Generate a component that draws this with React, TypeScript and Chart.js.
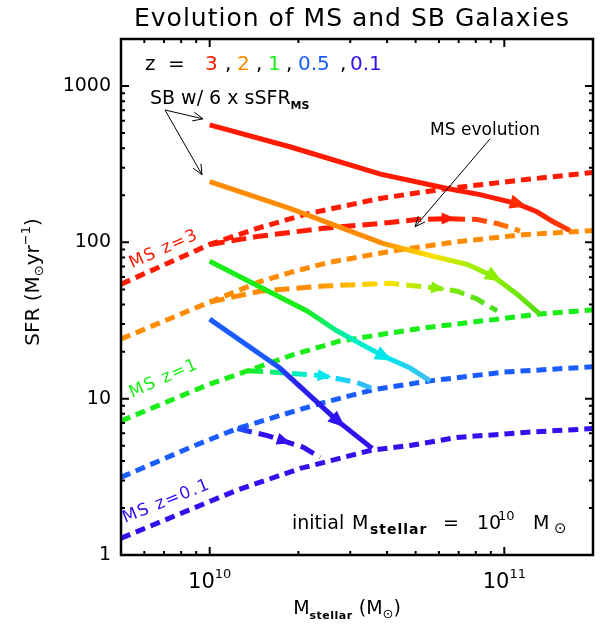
import React, { useEffect, useRef } from 'react';
import { Chart, registerables } from 'chart.js';

Chart.register(...registerables);

const FONT = '"DejaVu Sans", "Liberation Sans", sans-serif';

// ---------- axes ----------
const xMin = 5e9;
const xMax = 2e11;
const yMin = 1;
const yMax = 2000;
const yTickLabels = [1, 10, 100, 1000];

// ---------- colours ----------
const RED = '#ff1a00';
const ORANGE = '#ff8c00';
const YELLOW = '#ffe000';
const LIME = '#8cee00';
const GREEN = '#19ee19';
const CYAN = '#00e8ee';
const SKY = '#3cb4ff';
const BLUE = '#1a5cff';
const PURPLE = '#3010ee';

// ---------- main-sequence relations (dashed) ----------
const msZ3Mass = [5e9, 1e10, 1.45e10, 2.14e10, 3.78e10, 6.4e10, 1.2e11, 2e11];
const msZ3Sfr = [54, 97, 123, 152, 191, 221, 253, 280];
const msZ2Mass = [5e9, 1e10, 1.48e10, 1.87e10, 2.5e10, 4.09e10, 6.92e10, 1.16e11, 2e11];
const msZ2Sfr = [24.1, 41.5, 56, 64, 74, 87.6, 101, 112, 119];
const msZ1Mass = [5e9, 1e10, 1.35e10, 1.87e10, 2.77e10, 4.09e10, 5.3e10, 1.32e11, 2e11];
const msZ1Sfr = [7.2, 12.4, 15.1, 18.8, 23.4, 26.3, 28.3, 34.8, 37];
const msZ05Mass = [5e9, 8.91e9, 1.24e10, 1.64e10, 2.43e10, 3.58e10, 5.6e10, 1e11, 2e11];
const msZ05Sfr = [3.14, 5.02, 6.44, 7.57, 9.44, 11.4, 13.0, 14.8, 16.0];
const msZ01Mass = [5e9, 1e10, 1.24e10, 2.03e10, 3.5e10, 4.79e10, 6.92e10, 1.2e11, 2e11];
const msZ01Sfr = [1.28, 2.2, 2.6, 3.58, 4.66, 5.02, 5.65, 6.1, 6.44];

// ---------- MS evolution tracks (dashed, colour changes with z) ----------
const evoZ3Mass = [1e10, 1.45e10, 2.43e10, 3.78e10, 5.06e10, 6.4e10, 8.08e10, 9.45e10, 1.07e11, 1.13e11];
const evoZ3Sfr = [97, 109, 123, 132, 140, 142, 140, 132, 123, 118];
const evoZ3Arrow = 5;
const evoZ3Stops: [number, string][] = [[6.4e10, RED], [8.5e10, '#ff4a0a'], [1.13e11, ORANGE]];

const evoZ2Mass = [1e10, 1.48e10, 2.43e10, 4.09e10, 5.9e10, 6.92e10, 8.08e10, 9.45e10];
const evoZ2Sfr = [41.5, 48.7, 52.5, 54.8, 51, 48.7, 43.4, 36.4];
const evoZ2Arrow = 4;
const evoZ2Stops: [number, string][] = [[1e10, ORANGE], [2.2e10, ORANGE], [4e10, YELLOW], [5.9e10, LIME], [9.5e10, '#44dd22']];

const evoZ1Mass = [1.35e10, 1.73e10, 2.43e10, 3.16e10, 3.58e10];
const evoZ1Sfr = [15.1, 14.7, 14.0, 12.7, 11.6];
const evoZ1Arrow = 2;
const evoZ1Stops: [number, string][] = [[1.35e10, GREEN], [1.8e10, '#00f0a0'], [2.4e10, CYAN], [3.6e10, SKY]];

const evoZ05Mass = [1.24e10, 1.57e10, 1.77e10, 2.08e10, 2.37e10];
const evoZ05Sfr = [6.44, 5.81, 5.4, 4.88, 4.21];
const evoZ05Arrow = 2;
const evoZ05Stops: [number, string][] = [[1.24e10, BLUE], [1.45e10, PURPLE]];

// ---------- starburst tracks (solid) ----------
const sbZ3Mass = [1e10, 1.87e10, 3.8e10, 6.4e10, 8.27e10, 1.105e11, 1.29e11, 1.46e11, 1.67e11];
const sbZ3Sfr = [565, 409, 273, 221, 202, 177, 157, 136, 119];
const sbZ3Arrow = 5;
const sbZ3Stops: [number, string][] = [[1.2e11, RED], [1.67e11, '#ff4000']];

const sbZ2Mass = [1e10, 1.87e10, 3.87e10, 5.73e10, 7.47e10, 9.16e10, 1.105e11, 1.32e11];
const sbZ2Sfr = [245, 165, 98.6, 81.5, 72.4, 60.7, 46.6, 34.8];
const sbZ2Arrow = 5;
const sbZ2Stops: [number, string][] = [[3.8e10, ORANGE], [5.6e10, YELLOW], [7.5e10, '#aaee00'], [9.2e10, LIME], [1.32e11, '#55dd11']];

const sbZ1Mass = [1e10, 2.14e10, 2.71e10, 3.87e10, 4.79e10, 5.6e10];
const sbZ1Sfr = [75.7, 36.4, 27.1, 18.8, 15.7, 13.0];
const sbZ1Arrow = 3;
const sbZ1Stops: [number, string][] = [[2.1e10, GREEN], [3.0e10, '#00eebb'], [3.9e10, CYAN], [5.6e10, '#44bbee']];

const sbZ05Mass = [1e10, 1.73e10, 2.71e10, 3.56e10];
const sbZ05Sfr = [32.3, 15.7, 7.24, 4.81];
const sbZ05Arrow = 2;
const sbZ05Stops: [number, string][] = [[1.6e10, BLUE], [2.0e10, '#2a20ee'], [3.5e10, PURPLE]];

// ---------- annotations (data coordinates) ----------
const legendZ = ['3', '2', '1', '0.5', '0.1'];
const legendColors = [RED, ORANGE, GREEN, BLUE, PURPLE];
const sbLabelAt = [6.27e9, 768];
const sbArrowTail = [7.05e9, 703];
const sbArrowTips = [[9.49e9, 617], [9.42e9, 271]];
const msEvoLabelAt = [5.6e10, 487];
const msEvoArrow = [[8.95e10, 460], [4.98e10, 126]];
const msLabelText = ['MS z=3', 'MS z=1', 'MS z=0.1'];
const msLabelPos = [[5.45e9, 68.3], [5.45e9, 10.15], [5.16e9, 1.6]];
const msLabelColor = [RED, GREEN, PURPLE];
const msLabelAngle = [-24, -24, -22];

const MS_DASH = [10, 6];
const EVO_DASH = [15, 7];

type Part = { t: string; size: number; bold?: boolean; dy?: number; color?: string; ls?: number; x?: number };

function partFont(p: Part) {
  return `${p.bold ? 'bold ' : ''}${p.size}px ${FONT}`;
}

function setPart(ctx: any, p: Part) {
  ctx.font = partFont(p);
  ctx.letterSpacing = `${p.ls || 0}px`;
}

function richWidth(ctx: any, parts: Part[]) {
  let w = 0;
  for (const p of parts) {
    setPart(ctx, p);
    w += ctx.measureText(p.t).width;
  }
  return w;
}

function drawRich(ctx: any, x: number, y: number, parts: Part[], align: 'left' | 'center' = 'left') {
  ctx.save();
  ctx.textBaseline = 'alphabetic';
  ctx.textAlign = 'left';
  let cx = align === 'center' ? x - richWidth(ctx, parts) / 2 : x;
  for (const p of parts) {
    setPart(ctx, p);
    if (p.x !== undefined) cx = x + p.x;
    ctx.fillStyle = p.color || '#000';
    ctx.fillText(p.t, cx, y + (p.dy || 0));
    cx += ctx.measureText(p.t).width;
  }
  ctx.letterSpacing = '0px';
  ctx.restore();
}

function gradient(stops: [number, string][]) {
  return (c: any) => {
    const chart = c.chart;
    const xs = chart.scales && chart.scales.x;
    const area = chart.chartArea;
    if (!xs || !area) return stops[0][1];
    const g = chart.ctx.createLinearGradient(area.left, 0, area.right, 0);
    const w = area.right - area.left;
    for (const [xv, col] of stops) {
      const f = (xs.getPixelForValue(xv) - area.left) / w;
      g.addColorStop(Math.min(1, Math.max(0, f)), col);
    }
    return g;
  };
}

const pts = (xs: number[], ys: number[]) => xs.map((x, i) => ({ x, y: ys[i] }));
const isPow10 = (v: number) => Math.abs(Math.log10(v) - Math.round(Math.log10(v))) < 1e-9;

function openArrow(ctx: any, x1: number, y1: number, x2: number, y2: number) {
  const ang = Math.atan2(y2 - y1, x2 - x1);
  const L = 11;
  const s = 0.42;
  ctx.beginPath();
  ctx.moveTo(x1, y1);
  ctx.lineTo(x2, y2);
  ctx.moveTo(x2 - L * Math.cos(ang - s), y2 - L * Math.sin(ang - s));
  ctx.lineTo(x2, y2);
  ctx.lineTo(x2 - L * Math.cos(ang + s), y2 - L * Math.sin(ang + s));
  ctx.stroke();
}

const framePlugin = {
  id: 'frameTicks',
  afterDraw(chart: any) {
    const { ctx, chartArea: a } = chart;
    const xs = chart.scales.x;
    const ys = chart.scales.y;
    ctx.save();
    ctx.strokeStyle = '#000';
    ctx.lineWidth = 2;
    ctx.beginPath();
    for (let k = 9; k <= 11; k++) {
      for (let m = 1; m <= 9; m++) {
        const v = m * Math.pow(10, k);
        if (v <= xMin * 1.0001 || v >= xMax * 0.9999) continue;
        const p = xs.getPixelForValue(v);
        const len = m === 1 ? 8 : 4;
        ctx.moveTo(p, a.bottom);
        ctx.lineTo(p, a.bottom - len);
        ctx.moveTo(p, a.top);
        ctx.lineTo(p, a.top + len);
      }
    }
    for (let k = 0; k <= 3; k++) {
      for (let m = 1; m <= 9; m++) {
        const v = m * Math.pow(10, k);
        if (v <= yMin * 1.0001 || v >= yMax * 0.9999) continue;
        const p = ys.getPixelForValue(v);
        const len = m === 1 ? 8 : 4;
        ctx.moveTo(a.left, p);
        ctx.lineTo(a.left + len, p);
        ctx.moveTo(a.right, p);
        ctx.lineTo(a.right - len, p);
      }
    }
    ctx.stroke();
    ctx.lineWidth = 2.5;
    ctx.strokeRect(a.left, a.top, a.right - a.left, a.bottom - a.top);
    ctx.restore();
  },
};

const arrowPlugin = {
  id: 'trackArrows',
  afterDatasetsDraw(chart: any) {
    const ctx = chart.ctx;
    chart.data.datasets.forEach((ds: any, i: number) => {
      if (ds.arrowIndex == null) return;
      const meta = chart.getDatasetMeta(i);
      const k = ds.arrowIndex;
      const p = meta.data[k];
      const a = meta.data[k - 1];
      const b = meta.data[k + 1];
      const dx = b.x - a.x;
      const dy = b.y - a.y;
      const len = Math.hypot(dx, dy);
      const ux = dx / len;
      const uy = dy / len;
      const L = ds.arrowSize;
      const W = ds.arrowSize * 0.85;
      const tx = p.x + ux * L * 0.6;
      const ty = p.y + uy * L * 0.6;
      const bx = p.x - ux * L * 0.4;
      const by = p.y - uy * L * 0.4;
      ctx.save();
      ctx.beginPath();
      ctx.moveTo(tx, ty);
      ctx.lineTo(bx - (uy * W) / 2, by + (ux * W) / 2);
      ctx.lineTo(bx + (uy * W) / 2, by - (ux * W) / 2);
      ctx.closePath();
      ctx.fillStyle = ds.arrowColor;
      ctx.fill();
      ctx.restore();
    });
  },
};

const textPlugin = {
  id: 'texts',
  afterDraw(chart: any) {
    const { ctx, chartArea: a } = chart;
    const xs = chart.scales.x;
    const ys = chart.scales.y;
    const px = (v: number) => xs.getPixelForValue(v);
    const py = (v: number) => ys.getPixelForValue(v);
    const cxA = (a.left + a.right) / 2;

    // title
    drawRich(ctx, cxA - 5, a.top - 13, [{ t: 'Evolution of MS and SB Galaxies', size: 25, ls: 1 }], 'center');

    // x tick labels (10^n)
    for (const t of xs.ticks) {
      if (!isPow10(t.value)) continue;
      const e = Math.round(Math.log10(t.value));
      drawRich(ctx, px(t.value), a.bottom + 33, [
        { t: '10', size: 21 },
        { t: String(e), size: 13, dy: -10 },
      ], 'center');
    }

    // axis titles
    drawRich(ctx, cxA - 10, a.bottom + 59, [
      { t: 'M', size: 19 },
      { t: 'stellar', size: 11, bold: true, dy: 5, ls: 0.5 },
      { t: ' (M', size: 19 },
      { t: '\u2299', size: 13, dy: 4 },
      { t: ')', size: 19 },
    ], 'center');
    ctx.save();
    ctx.translate(39, (a.top + a.bottom) / 2 - 15);
    ctx.rotate(-Math.PI / 2);
    drawRich(ctx, 0, 0, [
      { t: 'SFR (M', size: 20 },
      { t: '\u2299', size: 13, dy: 4 },
      { t: 'yr', size: 20 },
      { t: '\u22121', size: 13, dy: -9 },
      { t: ')', size: 20 },
    ], 'center');
    ctx.restore();

    // redshift legend
    const ly = a.top + 31;
    const L0 = a.left;
    drawRich(ctx, L0, ly, [
      { t: 'z', size: 20, x: 24 },
      { t: '=', size: 20, x: 47 },
    ]);
    const zOff = [84, 116, 147, 177, 229];
    const cOff = [104, 135, 165, 219];
    legendZ.forEach((z, i) => {
      drawRich(ctx, L0 + zOff[i], ly, [{ t: z, size: 20, color: legendColors[i] }]);
      if (i < cOff.length) drawRich(ctx, L0 + cOff[i], ly, [{ t: ',', size: 20 }]);
    });

    // SB label + arrows
    drawRich(ctx, px(sbLabelAt[0]), py(sbLabelAt[1]), [
      { t: 'SB w/ 6 x sSFR', size: 19 },
      { t: 'MS', size: 11, bold: true, dy: 5 },
    ]);
    ctx.save();
    ctx.strokeStyle = '#000';
    ctx.lineWidth = 1;
    for (const tip of sbArrowTips) {
      openArrow(ctx, px(sbArrowTail[0]), py(sbArrowTail[1]), px(tip[0]), py(tip[1]));
    }
    openArrow(ctx, px(msEvoArrow[0][0]), py(msEvoArrow[0][1]), px(msEvoArrow[1][0]), py(msEvoArrow[1][1]));
    ctx.restore();

    // MS evolution label
    drawRich(ctx, px(msEvoLabelAt[0]), py(msEvoLabelAt[1]), [{ t: 'MS evolution', size: 17 }]);

    // MS z labels (rotated)
    msLabelText.forEach((s, i) => {
      ctx.save();
      ctx.translate(px(msLabelPos[i][0]), py(msLabelPos[i][1]));
      ctx.rotate((msLabelAngle[i] * Math.PI) / 180);
      drawRich(ctx, 0, 0, [{ t: s, size: 17, ls: 1.5, color: msLabelColor[i] }]);
      ctx.restore();
    });

    // initial mass note
    const ix = a.right - 301;
    const iy = a.bottom - 26;
    drawRich(ctx, ix, iy, [
      { t: 'initial', size: 19, x: 0 },
      { t: 'M', size: 19, x: 60 },
      { t: 'stellar', size: 14, bold: true, dy: 5, ls: 1, x: 78 },
      { t: '=', size: 19, x: 151 },
      { t: '10', size: 19, x: 185 },
      { t: '10', size: 13, dy: -9, x: 206 },
      { t: 'M', size: 19, x: 241 },
      { t: '\u2299', size: 15, dy: 4, x: 262 },
    ]);
  },
};

export default function App() {
  const ref = useRef<HTMLCanvasElement>(null);

  useEffect(() => {
    const canvas = ref.current;
    if (!canvas) return;

    const msSet = (label: string, xs: number[], ys: number[], color: string) => ({
      label,
      data: pts(xs, ys),
      borderColor: color,
      borderWidth: 5,
      borderDash: MS_DASH,
      pointRadius: 0,
      tension: 0,
      order: 2,
    });
    const evoSet = (label: string, xs: number[], ys: number[], stops: [number, string][], arrow: number, arrowColor: string) => ({
      label,
      data: pts(xs, ys),
      borderColor: gradient(stops),
      borderWidth: 5,
      borderDash: EVO_DASH,
      pointRadius: 0,
      tension: 0,
      order: 1,
      arrowIndex: arrow,
      arrowColor,
      arrowSize: 14,
    });
    const sbSet = (label: string, xs: number[], ys: number[], stops: [number, string][], arrow: number, arrowColor: string) => ({
      label,
      data: pts(xs, ys),
      borderColor: gradient(stops),
      borderWidth: 5,
      pointRadius: 0,
      tension: 0,
      order: 0,
      arrowIndex: arrow,
      arrowColor,
      arrowSize: 17,
    });

    const datasets: any[] = [
      msSet('MS z=3', msZ3Mass, msZ3Sfr, RED),
      msSet('MS z=2', msZ2Mass, msZ2Sfr, ORANGE),
      msSet('MS z=1', msZ1Mass, msZ1Sfr, GREEN),
      msSet('MS z=0.5', msZ05Mass, msZ05Sfr, BLUE),
      msSet('MS z=0.1', msZ01Mass, msZ01Sfr, PURPLE),
      evoSet('MS evolution z=3', evoZ3Mass, evoZ3Sfr, evoZ3Stops, evoZ3Arrow, RED),
      evoSet('MS evolution z=2', evoZ2Mass, evoZ2Sfr, evoZ2Stops, evoZ2Arrow, LIME),
      evoSet('MS evolution z=1', evoZ1Mass, evoZ1Sfr, evoZ1Stops, evoZ1Arrow, CYAN),
      evoSet('MS evolution z=0.5', evoZ05Mass, evoZ05Sfr, evoZ05Stops, evoZ05Arrow, PURPLE),
      sbSet('SB z=3', sbZ3Mass, sbZ3Sfr, sbZ3Stops, sbZ3Arrow, '#ff2a00'),
      sbSet('SB z=2', sbZ2Mass, sbZ2Sfr, sbZ2Stops, sbZ2Arrow, LIME),
      sbSet('SB z=1', sbZ1Mass, sbZ1Sfr, sbZ1Stops, sbZ1Arrow, CYAN),
      sbSet('SB z=0.5', sbZ05Mass, sbZ05Sfr, sbZ05Stops, sbZ05Arrow, PURPLE),
    ];

    const chart = new Chart(canvas, {
      type: 'line',
      data: { datasets },
      options: {
        animation: false,
        responsive: false,
        devicePixelRatio: 1,
        events: [],
        layout: { padding: { top: 39, right: 20, bottom: 0, left: 0 } },
        plugins: {
          legend: { display: false },
          title: { display: false },
          tooltip: { enabled: false },
        },
        scales: {
          x: {
            type: 'logarithmic',
            min: xMin,
            max: xMax,
            grid: { display: false, drawTicks: false },
            border: { display: false },
            ticks: { display: false, autoSkip: false },
            afterFit: (s: any) => {
              s.height = 70;
            },
          },
          y: {
            type: 'logarithmic',
            min: yMin,
            max: yMax,
            grid: { display: false, drawTicks: false },
            border: { display: false },
            ticks: {
              autoSkip: false,
              padding: 10,
              color: '#000',
              font: { family: FONT, size: 19 },
              callback: (v: any) => {
                const n = Number(v);
                return yTickLabels.some((t) => Math.abs(t - n) < 1e-6) ? String(n) : '';
              },
            },
            afterFit: (s: any) => {
              s.width = 121;
            },
          },
        },
      } as any,
      plugins: [arrowPlugin, framePlugin, textPlugin],
    });

    return () => chart.destroy();
  }, []);

  return (
    <div style={{ position: 'fixed', left: 0, top: 0, width: 613, height: 625, background: '#fff' }}>
      <canvas ref={ref} width={613} height={625} style={{ display: 'block' }} />
    </div>
  );
}
